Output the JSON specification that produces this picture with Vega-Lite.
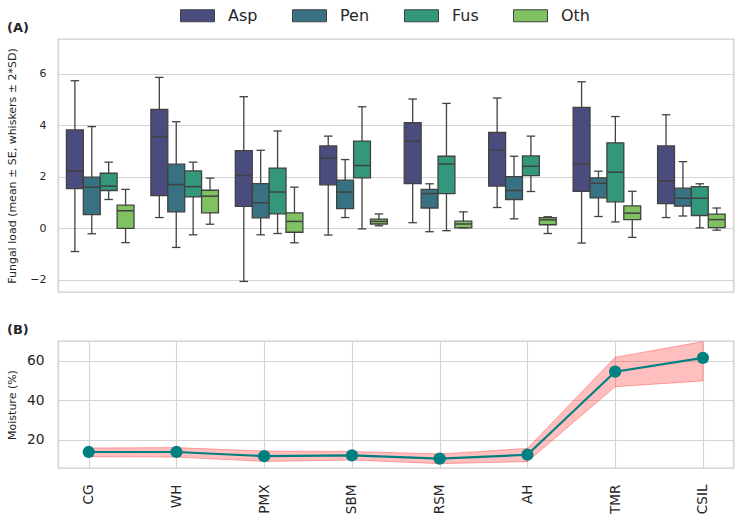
{
  "$schema": "https://vega.github.io/schema/vega-lite/v6.json",
  "background": "white",
  "padding": {"left": 6, "top": -2, "right": 5, "bottom": 2},
  "datasets": {
    "fungal": [
      {"site": "CG", "genus": "Asp", "lo": -0.91, "q1": 1.53, "med": 2.21, "q3": 3.81, "hi": 5.72},
      {"site": "CG", "genus": "Pen", "lo": -0.22, "q1": 0.52, "med": 1.59, "q3": 1.98, "hi": 3.94},
      {"site": "CG", "genus": "Fus", "lo": 1.11, "q1": 1.46, "med": 1.63, "q3": 2.13, "hi": 2.56},
      {"site": "CG", "genus": "Oth", "lo": -0.56, "q1": -0.01, "med": 0.67, "q3": 0.89, "hi": 1.5},
      {"site": "WH", "genus": "Asp", "lo": 0.41, "q1": 1.26, "med": 3.55, "q3": 4.61, "hi": 5.85},
      {"site": "WH", "genus": "Pen", "lo": -0.75, "q1": 0.63, "med": 1.69, "q3": 2.48, "hi": 4.13},
      {"site": "WH", "genus": "Fus", "lo": -0.26, "q1": 1.21, "med": 1.61, "q3": 2.22, "hi": 2.56},
      {"site": "WH", "genus": "Oth", "lo": 0.15, "q1": 0.59, "med": 1.24, "q3": 1.47, "hi": 1.94},
      {"site": "PMX", "genus": "Asp", "lo": -2.07, "q1": 0.84, "med": 2.04, "q3": 3.01, "hi": 5.1},
      {"site": "PMX", "genus": "Pen", "lo": -0.26, "q1": 0.4, "med": 0.98, "q3": 1.73, "hi": 3.02},
      {"site": "PMX", "genus": "Fus", "lo": -0.21, "q1": 0.55, "med": 1.4, "q3": 2.33, "hi": 3.77},
      {"site": "PMX", "genus": "Oth", "lo": -0.57, "q1": -0.16, "med": 0.26, "q3": 0.59, "hi": 1.59},
      {"site": "SBM", "genus": "Asp", "lo": -0.27, "q1": 1.68, "med": 2.71, "q3": 3.19, "hi": 3.57},
      {"site": "SBM", "genus": "Pen", "lo": 0.41, "q1": 0.76, "med": 1.4, "q3": 1.86, "hi": 2.66},
      {"site": "SBM", "genus": "Fus", "lo": -0.03, "q1": 1.95, "med": 2.43, "q3": 3.38, "hi": 4.71},
      {"site": "SBM", "genus": "Oth", "lo": 0.09, "q1": 0.16, "med": 0.26, "q3": 0.35, "hi": 0.55},
      {"site": "RSM", "genus": "Asp", "lo": 0.21, "q1": 1.73, "med": 3.37, "q3": 4.09, "hi": 5.01},
      {"site": "RSM", "genus": "Pen", "lo": -0.14, "q1": 0.78, "med": 1.34, "q3": 1.5, "hi": 1.72},
      {"site": "RSM", "genus": "Fus", "lo": -0.1, "q1": 1.34, "med": 2.49, "q3": 2.79, "hi": 4.84},
      {"site": "RSM", "genus": "Oth", "lo": 0.01, "q1": 0.01, "med": 0.16, "q3": 0.27, "hi": 0.63},
      {"site": "AH", "genus": "Asp", "lo": 0.8, "q1": 1.63, "med": 3.03, "q3": 3.71, "hi": 5.05},
      {"site": "AH", "genus": "Pen", "lo": 0.36, "q1": 1.11, "med": 1.46, "q3": 2.0, "hi": 2.79},
      {"site": "AH", "genus": "Fus", "lo": 1.42, "q1": 2.04, "med": 2.4, "q3": 2.8, "hi": 3.57},
      {"site": "AH", "genus": "Oth", "lo": -0.21, "q1": 0.13, "med": 0.32, "q3": 0.41, "hi": 0.44},
      {"site": "TMR", "genus": "Asp", "lo": -0.58, "q1": 1.43, "med": 2.49, "q3": 4.69, "hi": 5.68},
      {"site": "TMR", "genus": "Pen", "lo": 0.45, "q1": 1.17, "med": 1.74, "q3": 1.95, "hi": 2.21},
      {"site": "TMR", "genus": "Fus", "lo": 0.24, "q1": 1.02, "med": 2.17, "q3": 3.31, "hi": 4.33},
      {"site": "TMR", "genus": "Oth", "lo": -0.36, "q1": 0.33, "med": 0.58, "q3": 0.86, "hi": 1.43},
      {"site": "CSIL", "genus": "Asp", "lo": 0.41, "q1": 0.95, "med": 1.83, "q3": 3.19, "hi": 4.4},
      {"site": "CSIL", "genus": "Pen", "lo": 0.47, "q1": 0.85, "med": 1.16, "q3": 1.55, "hi": 2.58},
      {"site": "CSIL", "genus": "Fus", "lo": 0.01, "q1": 0.49, "med": 1.16, "q3": 1.61, "hi": 1.72},
      {"site": "CSIL", "genus": "Oth", "lo": -0.08, "q1": 0.02, "med": 0.33, "q3": 0.54, "hi": 0.78}
    ],
    "moisture": [
      {"site": "CG", "moisture": 13.8, "lower": 11.4, "upper": 15.8},
      {"site": "WH", "moisture": 13.8, "lower": 11.2, "upper": 16.0},
      {"site": "PMX", "moisture": 11.7, "lower": 9.0, "upper": 14.3},
      {"site": "SBM", "moisture": 12.1, "lower": 9.7, "upper": 14.1},
      {"site": "RSM", "moisture": 10.4, "lower": 7.9, "upper": 12.8},
      {"site": "AH", "moisture": 12.4, "lower": 8.9, "upper": 15.6},
      {"site": "TMR", "moisture": 54.4, "lower": 46.8, "upper": 61.7},
      {"site": "CSIL", "moisture": 61.4, "lower": 49.7, "upper": 69.6}
    ]
  },
  "spacing": 29,
  "vconcat": [
    {
      "width": 675.6,
      "height": 253,
      "title": {"text": "(A)", "anchor": "start", "fontSize": 13, "fontWeight": "bold", "offset": 4, "color": "#262626"},
      "data": {"name": "fungal"},
      "encoding": {
        "x": {
          "field": "site", "type": "nominal",
          "sort": ["CG", "WH", "PMX", "SBM", "RSM", "AH", "TMR", "CSIL"],
          "scale": {"paddingInner": 0, "paddingOuter": 0},
          "axis": null
        },
        "xOffset": {
          "field": "genus", "type": "nominal",
          "sort": ["Asp", "Pen", "Fus", "Oth"],
          "scale": {"paddingInner": 0, "paddingOuter": 0.5}
        }
      },
      "layer": [
        {
          "mark": {"type": "rule", "color": "#414141", "strokeWidth": 1.3},
          "encoding": {
            "y": {
              "field": "lo", "type": "quantitative",
              "title": "Fungal load (mean ± SE, whiskers ± 2*SD)",
              "scale": {"domain": [-2.48, 7.34], "nice": false, "zero": false},
              "axis": {"values": [-2, 0, 2, 4, 6], "labelFontSize": 11, "labelPadding": 12, "titleFontSize": 11, "titleX": -45, "titleBaseline": "middle"}
            },
            "y2": {"field": "hi"}
          }
        },
        {
          "mark": {"type": "bar", "stroke": "#414141", "strokeWidth": 1.3},
          "encoding": {
            "y": {"field": "q1", "type": "quantitative", "title": "Fungal load (mean ± SE, whiskers ± 2*SD)"},
            "y2": {"field": "q3"},
            "fill": {
              "field": "genus", "type": "nominal",
              "sort": ["Asp", "Pen", "Fus", "Oth"],
              "scale": {"domain": ["Asp", "Pen", "Fus", "Oth"], "range": ["#4a4c7e", "#377182", "#33977c", "#80c161"]},
              "legend": {
                "title": null,
                "orient": "none",
                "direction": "horizontal",
                "legendX": 122,
                "legendY": -41,
                "padding": 0,
                "symbolType": "M-1,-0.353H1V0.353H-1Z",
                "symbolSize": 1156,
                "symbolStrokeColor": "#414141",
                "symbolStrokeWidth": 1,
                "symbolOpacity": 1,
                "labelFontSize": 16,
                "labelColor": "#262626",
                "labelOffset": 13,
                "columnPadding": 32
              }
            }
          }
        },
        {
          "mark": {"type": "tick", "color": "#414141", "thickness": 1.5, "size": 16, "opacity": 1},
          "encoding": {"y": {"field": "med", "type": "quantitative", "title": "Fungal load (mean ± SE, whiskers ± 2*SD)"}}
        },
        {
          "mark": {"type": "tick", "color": "#414141", "thickness": 1.3, "size": 8.5, "opacity": 1},
          "encoding": {"y": {"field": "lo", "type": "quantitative", "title": "Fungal load (mean ± SE, whiskers ± 2*SD)"}}
        },
        {
          "mark": {"type": "tick", "color": "#414141", "thickness": 1.3, "size": 8.5, "opacity": 1},
          "encoding": {"y": {"field": "hi", "type": "quantitative", "title": "Fungal load (mean ± SE, whiskers ± 2*SD)"}}
        }
      ]
    },
    {
      "width": 675.6,
      "height": 127,
      "title": {"text": "(B)", "anchor": "start", "fontSize": 13, "fontWeight": "bold", "offset": 3, "color": "#262626"},
      "data": {"name": "moisture"},
      "encoding": {
        "x": {
          "field": "site", "type": "nominal",
          "sort": ["CG", "WH", "PMX", "SBM", "RSM", "AH", "TMR", "CSIL"],
          "scale": {"type": "point", "padding": 0.35},
          "axis": {"title": null, "labelAngle": -90, "labelFontSize": 13.6, "labelPadding": 16, "grid": true}
        }
      },
      "layer": [
        {
          "mark": {"type": "area", "fill": "#ff0000", "fillOpacity": 0.25, "stroke": "#ff0000", "strokeOpacity": 0.3, "strokeWidth": 1},
          "encoding": {
            "y": {
              "field": "lower", "type": "quantitative", "title": "Moisture (%)",
              "scale": {"domain": [5.7, 69.9], "nice": false, "zero": false},
              "axis": {"values": [20, 40, 60], "labelFontSize": 13.8, "labelPadding": 14, "titleFontSize": 11, "titleX": -45, "titleBaseline": "middle"}
            },
            "y2": {"field": "upper"}
          }
        },
        {
          "mark": {"type": "line", "color": "#008080", "strokeWidth": 2.2},
          "encoding": {"y": {"field": "moisture", "type": "quantitative", "title": "Moisture (%)"}}
        },
        {
          "mark": {"type": "point", "filled": true, "color": "#008080", "size": 150, "opacity": 1},
          "encoding": {"y": {"field": "moisture", "type": "quantitative", "title": "Moisture (%)"}}
        }
      ]
    }
  ],
  "config": {
    "font": "DejaVu Sans",
    "view": {"stroke": "#cccccc", "strokeWidth": 1.3},
    "axis": {
      "domain": false,
      "ticks": false,
      "tickSize": 0,
      "gridColor": "#d4d4d4",
      "gridWidth": 1.1,
      "labelColor": "#262626",
      "titleColor": "#262626",
      "titleFontWeight": "normal"
    }
  }
}
